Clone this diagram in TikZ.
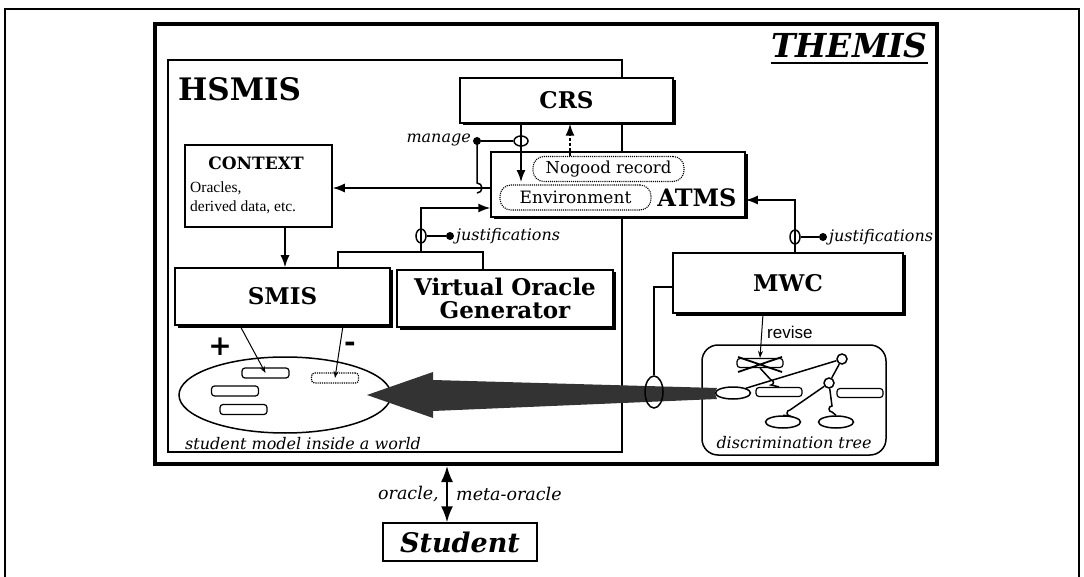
\documentclass[tikz,border=0pt]{standalone}
\usepackage{fontspec}
\setmainfont{DejaVu Serif}
\newfontfamily\tms{Liberation Serif}
\newfontfamily\hel{Liberation Sans}
\usetikzlibrary{arrows.meta,shadows,shapes.geometric}
\newcommand{\fs}[2]{\fontsize{#1}{#2}\selectfont}
\begin{document}
\begin{tikzpicture}[x=1pt,y=-1pt,
 lw/.style={line width=1.5pt},
 sbox/.style={draw, lw, fill=white, inner sep=0pt,
   drop shadow={shadow xshift=2.5pt, shadow yshift=-2.5pt, fill=black, opacity=1}},
 pbox/.style={draw, lw, fill=white, inner sep=0pt},
 arr/.style={lw, -{Latex[length=12pt,width=9pt]}},
 sarr/.style={line width=1pt, -{Stealth[length=7pt,width=5pt]}},
 dotn/.style={circle, fill=black, inner sep=0pt, minimum size=8pt},
 hoval/.style={ellipse, draw, lw, inner sep=0pt, minimum width=14pt, minimum height=10pt},
 voval/.style={ellipse, draw, lw, inner sep=0pt, minimum width=10pt, minimum height=14pt},
 pill/.style={draw, densely dotted, line width=1.1pt, fill=white, rounded corners=11pt, inner sep=0pt, minimum width=151pt, minimum height=25pt},
 mpill/.style={draw, line width=1.2pt, rounded corners=3pt, inner sep=0pt, minimum width=47pt, minimum height=10pt},
 tpill/.style={draw, line width=1.2pt, rounded corners=3pt, inner sep=0pt, minimum width=46pt, minimum height=9pt, fill=white},
 tov/.style={ellipse, draw, lw, inner sep=0pt, minimum width=35pt, minimum height=12pt, fill=white},
 tci/.style={circle, draw, lw, inner sep=0pt, minimum size=10pt, fill=white},
 bl/.style={font=\fs{22}{26}\bfseries},
 it/.style={font=\fs{16}{18}\itshape},
]
\useasboundingbox (0,0) rectangle (1084,577);
% outer frame
\draw[line width=1.3pt] (5,577) -- (5,9) -- (1079,9) -- (1079,577);
% THEMIS frame
\node[draw, line width=4pt, minimum width=782pt, minimum height=440pt, inner sep=0pt] (themis) at (546,244) {};
\node[font=\fs{33}{36}\bfseries\itshape, anchor=base east, inner sep=0pt] (tt) at (928,58) {THEMIS};
\draw[line width=2.5pt] ([yshift=-5pt]tt.base west) -- ([yshift=-5pt]tt.base east);
% HSMIS frame
\node[draw, line width=1.8pt, minimum width=454pt, minimum height=392pt, inner sep=0pt] (hsmis) at (395,256) {};
\node[font=\fs{31}{34}\bfseries, anchor=base west, inner sep=0pt] (hl) at (178,101) {HSMIS};
% CRS and ATMS
\node[sbox, minimum width=213pt, minimum height=45pt, font=\fs{23}{26}\bfseries] (crs) at (566.5,100.5) {CRS};
\node[sbox, minimum width=254pt, minimum height=65pt] (atms) at (618,184.5) {};
\node[pill] (nog) at (608.5,169) {\fs{16.5}{18}Nogood record};
\node[pill] (env) at (575.5,197.5) {\fs{17}{18}Environment};
\node[font=\fs{24}{28}\bfseries, inner sep=0pt] (al) at (697,198) {ATMS};
% CONTEXT
\node[pbox, minimum width=147pt, minimum height=82pt] (ctx) at (258.5,186) {};
\node[font=\fs{17}{18}\bfseries, inner sep=0pt] (ctxt) at (256,163) {CONTEXT};
\node[font=\fs{15.5}{18}\tms, anchor=base west, inner sep=0pt] (ctxo) at (190,193) {Oracles,};
\node[font=\fs{15.5}{18}\tms, anchor=base west, inner sep=0pt] (ctxd) at (190,212) {derived data, etc.};
% SMIS, VOG, MWC
\node[sbox, minimum width=215pt, minimum height=57pt, font=\fs{23}{26}\bfseries] (smis) at (282.5,296.5) {SMIS};
\node[sbox, minimum width=216pt, minimum height=57pt, align=center, font=\fs{23}{23}\bfseries] (vog) at (505,298.5) {Virtual Oracle\\Generator};
\node[sbox, minimum width=230pt, minimum height=60pt, font=\fs{23}{26}\bfseries] (mwc) at (788,283) {MWC};
% manage mechanism
\node[dotn] (md) at (477,141) {};
\node[hoval] (mo) at (521,141) {};
\node[it, anchor=east, inner sep=0pt] (ml) at (471,140) {manage};
\draw[lw] (md) -- (mo.west);
\draw[lw] (md.center) -- (477,183) arc[start angle=90, end angle=-90, radius=5pt];
\draw[arr] (crs.south -| mo.center) -- (mo.center |- nog.south);
\draw[lw, densely dashed, -{Latex[length=12pt,width=9pt]}] (nog.north -| 570,0) -- (crs.south -| 570,0);
% ATMS -> CONTEXT
\draw[arr] (atms.west |- 0,188) -- (ctx.east |- 0,188);
% justifications (left)
\coordinate (b1) at (338,252);
\coordinate (b2) at (483,252);
\coordinate (jt) at (421,252);
\coordinate (jv) at (421,208);
\node[voval] (jo1) at (421,236) {};
\node[dotn] (jd1) at (450,236) {};
\node[it, anchor=west, inner sep=0pt] (jl1) at (456,236) {justifications};
\draw[lw] (jo1.east) -- (jd1);
\draw[lw] (smis.north -| b1) -- (b1) -- (b2) -- (vog.north -| b2);
\draw[arr] (jt) -- (jv) -- (atms.west |- jv);
% CONTEXT -> SMIS
\draw[arr] (ctx.south -| 285,0) -- (smis.north -| 285,0);
% justifications (right)
\coordinate (k) at (795,200);
\node[voval] (jo2) at (795,237) {};
\node[dotn] (jd2) at (823,237) {};
\node[it, anchor=west, inner sep=0pt] (jl2) at (829,237) {justifications};
\draw[lw] (jo2.east) -- (jd2);
\draw[arr] (mwc.north -| k) -- (k) -- (atms.east |- k);
% student model
\node[ellipse, draw, lw, inner sep=0pt, minimum width=212pt, minimum height=76pt] (sm) at (285,395) {};
\node[mpill] (p1) at (265.5,373) {};
\node[mpill, densely dotted] (p2) at (335,378) {};
\node[mpill] (p3) at (235,391) {};
\node[mpill] (p4) at (243.5,409.5) {};
\node[font=\fs{28}{30}\bfseries, inner sep=0pt] (plus) at (220,347) {+};
\node[font=\fs{28}{30}\bfseries, inner sep=0pt] (minus) at (350,347) {-};
\draw[sarr] (smis.south -| 240,0) -- (p1.center);
\draw[sarr] (smis.south -| 343,0) -- (p2.center);
\node[font=\fs{16}{18}\itshape, anchor=base west, inner sep=0pt] (sml) at (185,449) {student model inside a world};
% discrimination tree
\node[draw, lw, rounded corners=16pt, minimum width=184pt, minimum height=110pt, inner sep=0pt] (dt) at (794,400) {};
\node[font=\fs{16}{18}\itshape, inner sep=0pt] (dtl) at (794,443) {discrimination tree};
\node[tpill] (xp) at (760,363) {};
\draw[line width=1.8pt] (738,357) -- (782,372) (738,372) -- (782,357);
\node[tov] (dl) at (733,393) {};
\node[tpill] (dp) at (779,392) {};
\node[tpill] (dr) at (860,393) {};
\node[tov] (el) at (783,422) {};
\node[tov] (er) at (836,422) {};
\node[tci] (ct) at (842,359) {};
\node[tci] (cm) at (829,383) {};
\draw[lw] (dl.north east) -- (ct);
\draw[lw] (ct) -- (cm);
\draw[lw] (cm) -- (790,410) arc[start angle=90, end angle=270, radius=3pt] -- (el.north);
\draw[lw] (cm) -- (832,406) arc[start angle=90, end angle=270, radius=3pt] -- (er.north);
\draw[lw] (xp.south) -- (771,380) arc[start angle=90, end angle=-90, radius=2.5pt] -- (dp.north);
% revise
\draw[sarr] (mwc.south -| 763,0) -- (xp.north);
\node[font=\fs{17}{20}\hel, anchor=west, inner sep=0pt] (rv) at (767,332) {revise};
% big shaded arrow
\fill[black!80] (dl.west) -- (717,388) -- (433,380) -- (433,372) -- (367,395) -- (433,418) -- (433,411) -- (717,399) -- cycle;
% oval around arrow and line to MWC
\node[ellipse, draw, lw, inner sep=0pt, minimum width=18pt, minimum height=32pt] (bo) at (654,392) {};
\draw[lw] (mwc.west |- 0,287) -- (654,287) -- (bo.north);
% student
\node[draw, lw, minimum width=154pt, minimum height=38pt, inner sep=0pt, font=\fs{27}{30}\bfseries\itshape] (stu) at (460,542) {Student};
\draw[line width=1.8pt, {Latex[length=16pt,width=12pt]}-{Latex[length=16pt,width=12pt]}] (447,466) -- (stu.north -| 447,0);
\node[font=\fs{17.5}{20}\itshape, anchor=east, inner sep=0pt] (or) at (439,494) {oracle,};
\node[font=\fs{17.5}{20}\itshape, anchor=west, inner sep=0pt] (mo2) at (456,494) {meta-oracle};
\end{tikzpicture}
\end{document}
